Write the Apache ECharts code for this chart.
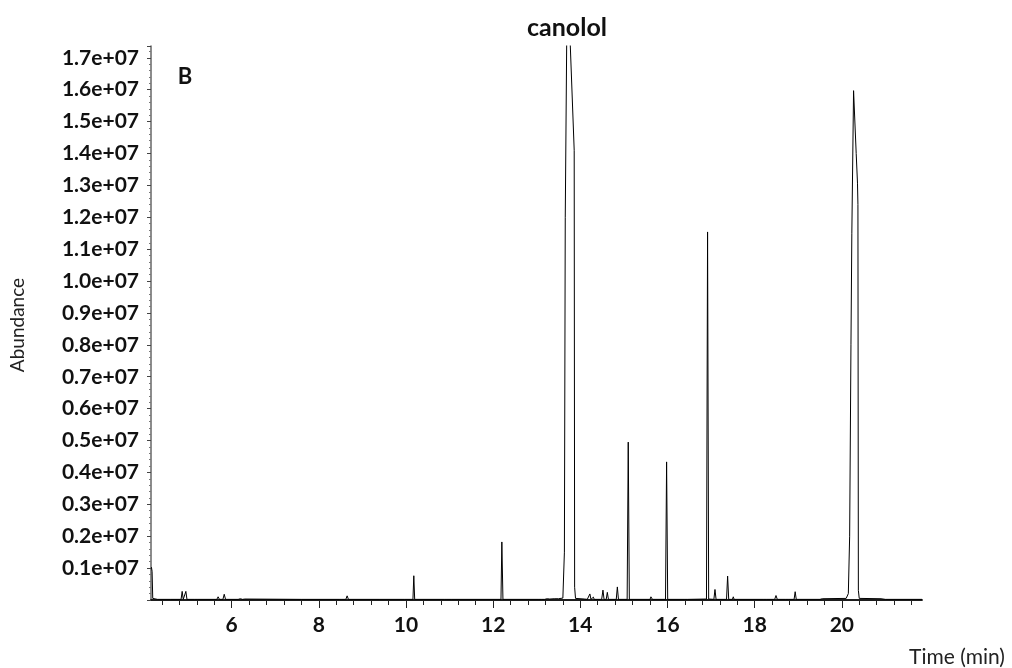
<!DOCTYPE html>
<html>
<head>
<meta charset="utf-8">
<title>canolol</title>
<script src="https://cdn.jsdelivr.net/npm/echarts@6/dist/echarts.min.js"></script>
<style>
  html, body { margin: 0; padding: 0; background: #fff; }
  #chart { width: 1012px; height: 668px; }
</style>
</head>
<body>
<div id="chart"></div>
<script>
// retention time (min) and abundance (x1e6 counts)
const times = [
  4.16, 4.175, 4.19, 4.30, 4.60, 4.84, 4.865, 4.89, 4.925, 4.95, 4.975, 5.15, 5.18, 5.21,
  5.66, 5.69, 5.72, 5.80, 5.83, 5.86, 6.15, 6.20, 6.25, 6.30, 6.34, 7.60, 7.62, 7.64,
  8.47, 8.50, 8.53, 8.62, 8.65, 8.68, 9.40, 9.91, 9.94, 9.97, 10.16, 10.18, 10.20,
  10.88, 10.91, 10.94, 11.05, 11.07, 11.09, 12.18, 12.20, 12.225,
  13.05, 13.08, 13.11, 13.18, 13.21, 13.24, 13.27, 13.30, 13.40, 13.50, 13.60,
  13.635, 13.655, 13.70, 13.77, 13.86, 13.87, 13.89,
  14.10, 14.13, 14.16, 14.195, 14.22, 14.245, 14.28, 14.30, 14.32, 14.49, 14.52, 14.545,
  14.595, 14.62, 14.645, 14.825, 14.85, 14.875, 15.075, 15.10, 15.125,
  15.60, 15.62, 15.635, 15.655, 15.955, 15.98, 16.005, 16.40, 16.43, 16.46,
  16.895, 16.92, 16.945, 17.065, 17.09, 17.115, 17.355, 17.38, 17.405, 17.49, 17.51, 17.53,
  18.21, 18.24, 18.27, 18.40, 18.43, 18.46, 18.47, 18.49, 18.52, 18.71, 18.74, 18.77,
  18.905, 18.93, 18.955, 19.50, 19.55, 20.10,
  20.15, 20.18, 20.21, 20.23, 20.27, 20.33, 20.36, 20.37, 20.38, 20.40, 20.90, 21.00, 21.84
];
const abundance = [
  1.03, 0.90, 0.05, 0.02, 0.02, 0.02, 0.27, 0.02, 0.02, 0.27, 0.02, 0.02, 0.05, 0.02,
  0.02, 0.10, 0.02, 0.02, 0.18, 0.02, 0.02, 0.04, 0.02, 0.03, 0.02, 0.02, 0.03, 0.02,
  0.02, 0.08, 0.02, 0.02, 0.13, 0.02, 0.02, 0.02, 0.07, 0.02, 0.02, 0.76, 0.02,
  0.02, 0.07, 0.02, 0.02, 0.03, 0.02, 0.02, 1.82, 0.02,
  0.02, 0.04, 0.02, 0.02, 0.08, 0.04, 0.10, 0.03, 0.04, 0.04, 0.06,
  1.5, 12.0, 19.5, 17.4, 14.1, 0.4, 0.05,
  0.03, 0.06, 0.02, 0.02, 0.19, 0.02, 0.02, 0.09, 0.02, 0.02, 0.31, 0.02,
  0.02, 0.24, 0.02, 0.02, 0.41, 0.02, 0.02, 4.95, 0.02,
  0.02, 0.10, 0.15, 0.02, 0.02, 4.33, 0.02, 0.02, 0.04, 0.02,
  0.03, 11.54, 0.03, 0.02, 0.33, 0.02, 0.02, 0.75, 0.02, 0.02, 0.10, 0.02,
  0.02, 0.04, 0.02, 0.02, 0.05, 0.02, 0.02, 0.14, 0.02, 0.02, 0.05, 0.02,
  0.02, 0.26, 0.02, 0.02, 0.04, 0.05,
  0.2, 2.0, 8.0, 11.5, 15.97, 14.0, 13.07, 12.4, 0.3, 0.05, 0.04, 0.02, 0.02
];

const xMajorTicks = [6, 8, 10, 12, 14, 16, 18, 20];
const xMinorTicks = [
  4.4, 4.8, 5.2, 5.6, 6.4, 6.8, 7.2, 7.6, 8.4, 8.8, 9.2, 9.6, 10.4, 10.8, 11.2, 11.6,
  12.4, 12.8, 13.2, 13.6, 14.4, 14.8, 15.2, 15.6, 16.4, 16.8, 17.2, 17.6,
  18.4, 18.8, 19.2, 19.6, 20.4, 20.8, 21.2, 21.6
];

const X_MIN = 4.15, X_MAX = 21.84;
const Y_MAX = 1.737e7;

const chart = echarts.init(document.getElementById('chart'), null, { renderer: 'canvas' });
const font = 'Lato, "Noto Sans", sans-serif';

const seriesData = times.map((t, i) => [t, abundance[i] * 1e6]);
const gridBox = { left: 151, right: 90, top: 46, bottom: 68, containLabel: false };
const xLine = { show: true, onZero: false, lineStyle: { color: '#111', width: 1.5 } };

chart.setOption({
  backgroundColor: '#fff',
  animation: false,
  grid: [gridBox, Object.assign({}, gridBox)],
  xAxis: [
    {
      type: 'value', gridIndex: 0, min: X_MIN, max: X_MAX, position: 'bottom',
      axisLine: xLine,
      axisTick: { show: true, customValues: xMajorTicks, length: 8, lineStyle: { color: '#222', width: 1 } },
      axisLabel: {
        customValues: xMajorTicks, margin: 15,
        fontFamily: font, fontWeight: 'bold', fontSize: 21, color: '#111'
      },
      splitLine: { show: false }
    },
    {
      // minor ticks, overlaid on the same box
      type: 'value', gridIndex: 1, min: X_MIN, max: X_MAX, position: 'bottom',
      axisLine: xLine,
      axisTick: { show: true, customValues: xMinorTicks, length: 5, lineStyle: { color: '#222', width: 1 } },
      axisLabel: { show: false },
      splitLine: { show: false }
    }
  ],
  yAxis: [
    {
      type: 'value', gridIndex: 0, min: 0, max: Y_MAX, interval: 1e6,
      axisLine: { show: true, lineStyle: { color: '#666', width: 1.5 } },
      axisTick: { show: true, length: 4, lineStyle: { color: '#444' } },
      minorTick: { show: true, splitNumber: 5, length: 2, lineStyle: { color: '#777' } },
      axisLabel: {
        margin: 12, showMaxLabel: false,
        fontFamily: font, fontWeight: 'bold', fontSize: 21, color: '#111',
        formatter: v => {
          const m = v / 1e6;
          if (v <= 0 || Math.abs(m - Math.round(m)) > 1e-6) return '';
          return (v / 1e7).toFixed(1) + 'e+07';
        }
      },
      splitLine: { show: false }
    },
    {
      type: 'value', gridIndex: 1, min: 0, max: Y_MAX, show: false,
      splitLine: { show: false }
    }
  ],
  series: [{
    type: 'line',
    xAxisIndex: 0, yAxisIndex: 0,
    data: seriesData,
    showSymbol: false,
    clip: true,
    lineStyle: { color: '#000', width: 1 },
    z: 3
  }],
  graphic: [
    { type: 'text', x: 567, y: 28, style: { text: 'canolol', font: 'bold 25px ' + font, fill: '#111', align: 'center', verticalAlign: 'middle' } },
    { type: 'text', x: 185, y: 77, style: { text: 'B', font: 'bold 22px ' + font, fill: '#111', align: 'center', verticalAlign: 'middle' } },
    { type: 'text', x: 18, y: 325, rotation: Math.PI / 2, style: { text: 'Abundance', font: '19px ' + font, fill: '#222', align: 'center', verticalAlign: 'middle' } },
    { type: 'text', x: 957, y: 657, style: { text: 'Time (min)', font: '21px ' + font, fill: '#222', align: 'center', verticalAlign: 'middle' } }
  ]
});
</script>
</body>
</html>
